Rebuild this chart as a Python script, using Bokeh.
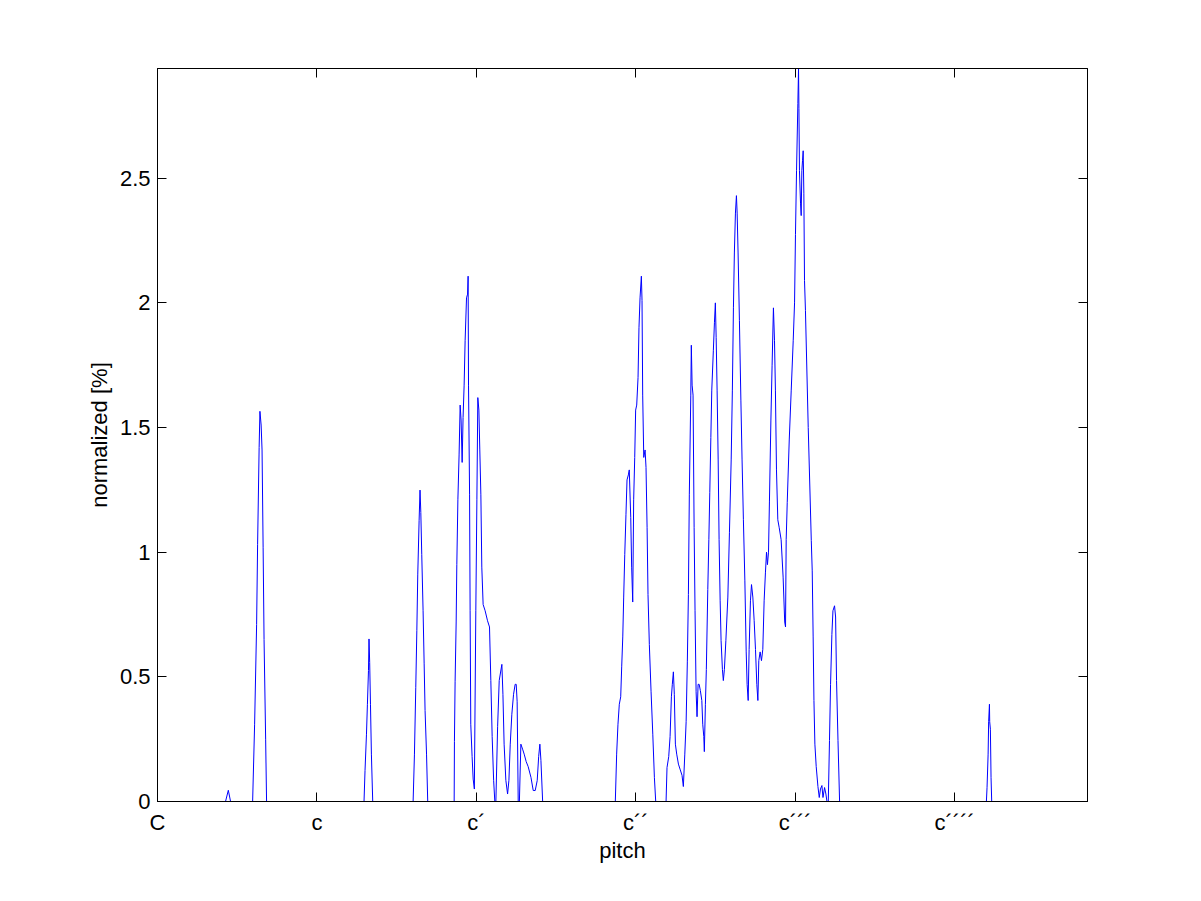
from bokeh.plotting import figure
from bokeh.models import FixedTicker, LinearAxis, Range1d
from bokeh.embed import file_html
from bokeh.resources import INLINE

# pitch in semitones above C, normalized value in %
pitch = [0.0,
         5.12, 5.33, 5.50,
         7.16, 7.31, 7.46, 7.535, 7.65, 7.71, 7.80, 7.87, 7.95, 8.02, 8.14, 8.21,
         15.545, 15.62, 15.73, 15.80, 15.88, 15.92, 15.97, 16.03, 16.10, 16.20,
         19.24, 19.34, 19.44, 19.52, 19.59, 19.69, 19.76, 19.82, 19.89, 19.99, 20.07, 20.14, 20.25, 20.34,
         22.33, 22.35, 22.40, 22.48, 22.53, 22.61, 22.70, 22.78, 22.85, 22.93, 23.00, 23.08, 23.155,
         23.26, 23.34, 23.38, 23.41, 23.49, 23.53, 23.58, 23.68, 23.76, 23.85, 23.96, 24.04, 24.11,
         24.19, 24.26, 24.34, 24.41, 24.51, 24.66, 24.84, 24.99, 25.09, 25.19, 25.30, 25.39,
         25.47, 25.60, 25.72, 25.92, 26.00, 26.09, 26.22, 26.35, 26.45, 26.55, 26.67, 26.80, 26.92,
         27.00, 27.07, 27.15, 27.24, 27.35, 27.48, 27.60, 27.75, 27.90, 28.11, 28.28, 28.43, 28.58,
         28.69, 28.78, 28.86, 28.99,
         34.46, 34.56, 34.66, 34.76, 34.865, 34.94, 35.02, 35.09, 35.17, 35.26, 35.34, 35.44, 35.51,
         35.62, 35.69, 35.77, 35.84, 35.92, 35.99, 36.07, 36.17, 36.24, 36.32, 36.42, 36.47, 36.52,
         36.60, 36.70, 36.77, 36.85, 36.92, 37.02, 37.15, 37.28, 37.40, 37.50,
         38.28, 38.35, 38.48, 38.58, 38.68, 38.75, 38.83, 38.90, 38.98, 39.08, 39.21, 39.33, 39.48,
         39.58, 39.69, 39.79, 39.88, 39.96, 40.03, 40.14, 40.18, 40.24, 40.31, 40.39, 40.46, 40.54,
         40.61, 40.69, 40.77, 40.86, 40.97, 41.04, 41.12, 41.16, 41.24, 41.31, 41.42, 41.50, 41.57,
         41.65, 41.72, 41.84, 41.92, 41.99, 42.05, 42.12, 42.20, 42.27, 42.35, 42.42, 42.52, 42.59,
         42.67, 42.78, 42.93, 43.05, 43.18, 43.27, 43.35, 43.42, 43.50, 43.575, 43.63, 43.70, 43.80,
         43.91, 44.00, 44.10, 44.21, 44.31, 44.38, 44.46, 44.53, 44.63, 44.71, 44.81, 44.91, 45.01,
         45.11, 45.19, 45.26, 45.36, 45.46, 45.56, 45.66, 45.76, 45.84, 45.91, 45.99, 46.06, 46.17,
         46.26, 46.36, 46.44, 46.51, 46.59, 46.69, 46.79, 46.94, 47.09, 47.21, 47.27, 47.32, 47.40,
         47.55, 47.70, 47.85, 47.95, 48.02, 48.10, 48.20, 48.25, 48.28, 48.32, 48.40, 48.45, 48.50,
         48.55, 48.60, 48.65, 48.70, 48.77, 48.98, 49.21, 49.28, 49.35, 49.41, 49.48, 49.58, 49.71,
         49.81, 49.90, 50.01, 50.09, 50.21, 50.31, 50.39,
         50.49, 50.58, 50.66, 50.76, 50.84, 50.96, 51.04, 51.11, 51.22, 51.34,
         62.39, 62.44, 62.52, 62.56, 62.62, 62.64, 62.69, 62.74, 62.79,
         70.0]

value = [0.0,
         0.0, 0.045, 0.0,
         0.0, 0.31, 0.71, 1.03, 1.42, 1.565, 1.51, 1.41, 1.02, 0.65, 0.25, 0.0,
         0.0, 0.124, 0.27, 0.39, 0.525, 0.652, 0.558, 0.39, 0.19, 0.0,
         0.0, 0.19, 0.458, 0.685, 0.912, 1.126, 1.249, 1.159, 0.99, 0.765, 0.552, 0.365, 0.19, 0.0,
         0.0, 0.24, 0.48, 0.72, 0.95, 1.21, 1.39, 1.59, 1.53, 1.36, 1.54, 1.67, 1.85,
         2.02, 2.035, 2.107, 1.67, 1.23, 0.765, 0.31, 0.18, 0.09, 0.05, 0.765, 1.21, 1.62,
         1.57, 1.41, 1.23, 0.94, 0.79, 0.765, 0.725, 0.70, 0.485, 0.26, 0.085, 0.0,
         0.0, 0.30, 0.485, 0.55, 0.43, 0.23, 0.085, 0.03, 0.085, 0.23, 0.35, 0.43, 0.47,
         0.47, 0.40, 0.0, 0.0, 0.23, 0.21, 0.19, 0.16, 0.14, 0.097, 0.044, 0.044, 0.084,
         0.18, 0.23, 0.165, 0.0,
         0.0, 0.19, 0.31, 0.39, 0.42, 0.54, 0.66, 0.82, 0.99, 1.15, 1.29, 1.31, 1.33,
         1.14, 0.94, 0.80, 1.21, 1.38, 1.57, 1.59, 1.70, 1.90, 2.02, 2.107, 2.01, 1.63,
         1.38, 1.41, 1.34, 1.10, 0.83, 0.63, 0.44, 0.27, 0.097, 0.0,
         0.0, 0.136, 0.18, 0.26, 0.42, 0.47, 0.52, 0.43, 0.23, 0.19, 0.15, 0.13, 0.105,
         0.06, 0.19, 0.32, 0.56, 0.83, 1.23, 1.63, 1.83, 1.67, 1.63, 1.10, 0.765, 0.44,
         0.34, 0.47, 0.47, 0.445, 0.405, 0.31, 0.26, 0.20, 0.39, 0.53, 0.85, 1.05, 1.24,
         1.46, 1.65, 1.81, 1.92, 2.00, 1.86, 1.65, 1.37, 1.05, 0.805, 0.645, 0.53, 0.485,
         0.53, 0.645, 0.82, 1.08, 1.37, 1.65, 1.98, 2.20, 2.36, 2.43, 2.36, 2.20, 1.93,
         1.61, 1.37, 1.13, 0.885, 0.60, 0.47, 0.405, 0.61, 0.805, 0.87, 0.82, 0.725, 0.61,
         0.47, 0.405, 0.565, 0.60, 0.565, 0.61, 0.805, 0.92, 1.00, 0.95, 1.00, 1.205, 1.53,
         1.75, 1.98, 1.85, 1.65, 1.33, 1.13, 1.10, 1.05, 0.90, 0.72, 0.70, 1.05, 1.20,
         1.45, 1.65, 1.85, 2.00, 2.275, 2.53, 2.80, 2.94, 2.78, 2.53, 2.40, 2.35, 2.53,
         2.57, 2.61, 2.44, 2.09, 1.97, 1.50, 1.046, 0.925, 0.66, 0.405, 0.23, 0.14, 0.06,
         0.016, 0.05, 0.064, 0.016, 0.056, 0.03, 0.0,
         0.0, 0.245, 0.47, 0.67, 0.765, 0.785, 0.74, 0.485, 0.245, 0.0,
         0.0, 0.057, 0.19, 0.32, 0.39, 0.32, 0.29, 0.097, 0.0,
         0.0]

x_ticks = [0, 12, 24, 36, 48, 60]
x_tick_labels = ["C", "c", "c\u00b4", "c\u00b4\u00b4", "c\u00b4\u00b4\u00b4", "c\u00b4\u00b4\u00b4\u00b4"]
y_ticks = [0, 0.5, 1, 1.5, 2, 2.5]
y_tick_labels = ["0", "0.5", "1", "1.5", "2", "2.5"]

FONT = "Liberation Sans"
FS = "22px"

p = figure(frame_width=930, frame_height=733,
           x_range=Range1d(0, 70), y_range=Range1d(0, 2.94),
           output_backend="svg", toolbar_location=None,
           min_border_left=157, min_border_top=68, min_border_right=100, min_border_bottom=90,
           background_fill_color="white", border_fill_color="white",
           outline_line_color="black", outline_line_width=1)
p.grid.visible = False

p.line(pitch, value, line_color="#0000ff", line_width=1)

def style(ax, ticks, labels):
    ax.ticker = FixedTicker(ticks=ticks)
    ax.minor_tick_line_color = None
    ax.major_tick_in = 9
    ax.major_tick_out = 0
    ax.axis_line_color = "black"
    ax.major_tick_line_color = "black"
    ax.major_label_text_font = FONT
    ax.major_label_text_font_size = FS
    ax.major_label_text_color = "black"
    ax.axis_label_text_font = FONT
    ax.axis_label_text_font_size = FS
    ax.axis_label_text_font_style = "normal"
    ax.axis_label_text_color = "black"
    ax.major_label_overrides = {t: l for t, l in zip(ticks, labels)}

xa = p.xaxis[0]
style(xa, x_ticks, x_tick_labels)
xa.axis_label = "pitch"
xa.major_label_standoff = 8
xa.axis_label_standoff = 0

ya = p.yaxis[0]
style(ya, y_ticks, y_tick_labels)
ya.axis_label = "normalized [%]"
ya.major_label_standoff = 7
ya.axis_label_standoff = 5

top = LinearAxis()
style(top, x_ticks, [""] * len(x_ticks))
p.add_layout(top, "above")
right = LinearAxis()
style(right, y_ticks, [""] * len(y_ticks))
p.add_layout(right, "right")

open("out.html", "w").write(file_html(p, INLINE))
